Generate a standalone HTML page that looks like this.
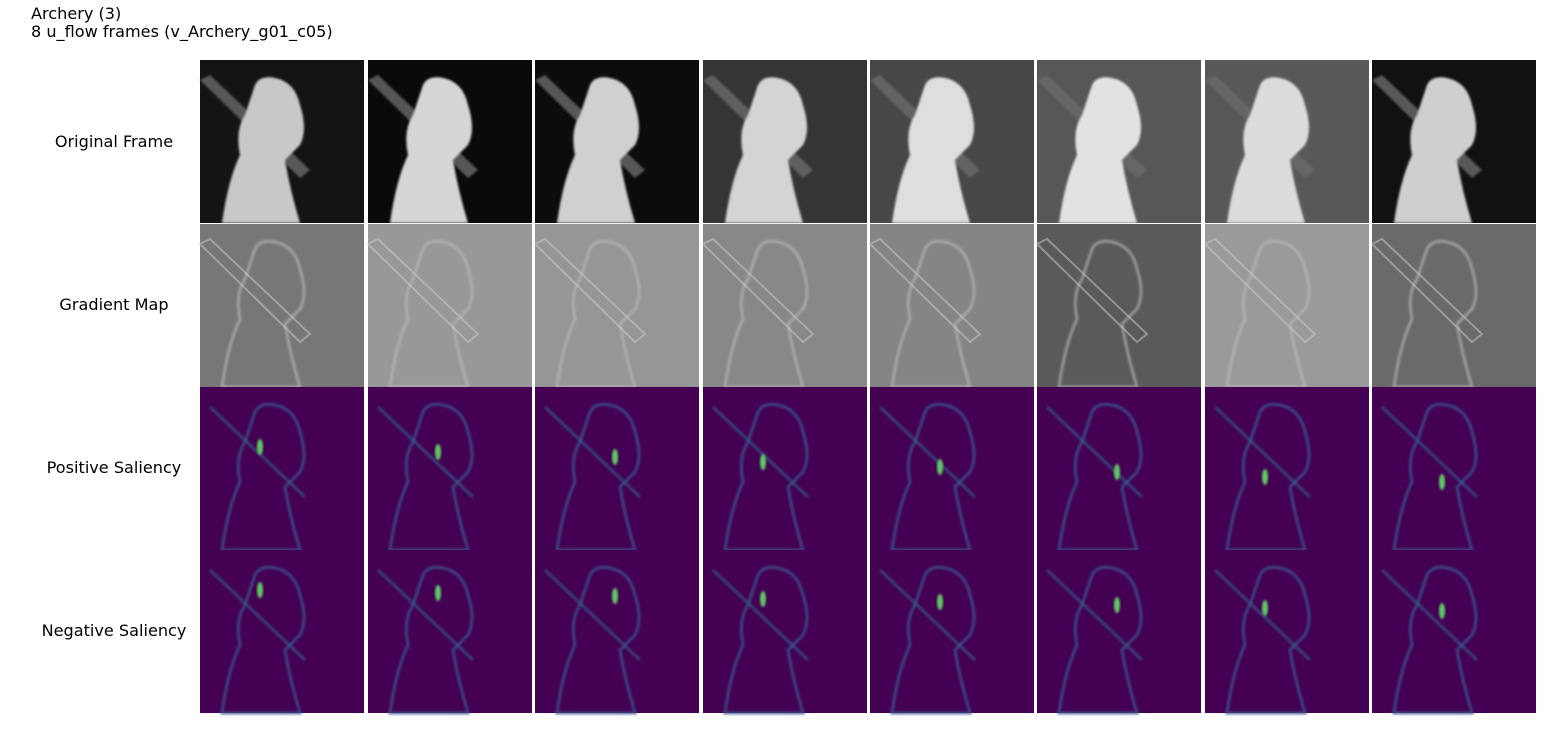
<!DOCTYPE html>
<html><head><meta charset="utf-8"><style>
body{margin:0;background:#fff;width:1552px;height:737px;overflow:hidden;font-family:"DejaVu Sans",sans-serif}
.t{position:absolute;left:31px;font-size:16.1px;color:#000}
.lab{position:absolute;font-size:16.1px;color:#000;text-align:center;width:200px;left:14px}
svg{position:absolute;left:0;top:0}
</style></head><body>
<div class="t" style="top:4px">Archery (3)</div>
<div class="t" style="top:22px">8 u_flow frames (v_Archery_g01_c05)</div>
<div class="lab" style="top:132px">Original Frame</div>
<div class="lab" style="top:295px">Gradient Map</div>
<div class="lab" style="top:458px">Positive Saliency</div>
<div class="lab" style="top:621px">Negative Saliency</div>
<svg id="g" width="1552" height="737">
<defs>
<filter id="bl"><feGaussianBlur stdDeviation="2"/></filter>
<filter id="bl2"><feGaussianBlur stdDeviation="1"/></filter>
</defs>
</svg>
<script>
const colX=[200,368,535,703,870,1037,1205,1372];
const rowY=[60,224,387,550];
const origBg=['#141414','#0a0a0a','#0c0c0c','#353535','#474747','#575757','#585858','#111111'];
const origFig=['#c8c8c8','#d6d6d6','#d0d0d0','#d4d4d4','#dedede','#e2e2e2','#dcdcdc','#cfcfcf'];
const gradBg=['#777777','#989898','#969696','#888888','#858585','#5a5a5a','#9a9a9a','#6a6a6a'];
const W=164,H=163;
const fig="M55 25 Q60 15 75 18 Q95 22 100 45 Q108 70 100 85 L85 100 Q90 130 100 163 L22 163 Q28 120 40 95 Q35 70 45 55 Q50 40 55 25 Z";
const arm="M0 20 L10 15 L110 110 L100 118 Z";
const g=document.getElementById('g');
const NS='http://www.w3.org/2000/svg';
function mk(t,a,p){const e=document.createElementNS(NS,t);for(const k in a)e.setAttribute(k,a[k]);(p||g).appendChild(e);return e;}
colX.forEach((x,i)=>{
 for(let r=0;r<4;r++){
  const grp=mk('g',{transform:`translate(${x},${rowY[r]})`});
  
  
  if(r===0){
   mk('rect',{width:W,height:H,fill:origBg[i]},grp);
   mk('path',{d:arm,fill:'#6a6a6a',opacity:.8,filter:'url(#bl2)'},grp);
   mk('path',{d:fig,fill:origFig[i],filter:'url(#bl2)'},grp);
  }else if(r===1){
   mk('rect',{width:W,height:H,fill:gradBg[i]},grp);
   mk('path',{d:fig,fill:'none',stroke:'#bbb',"stroke-width":3,opacity:.6,filter:'url(#bl2)'},grp);
   mk('path',{d:arm,fill:'none',stroke:'#ccc',"stroke-width":2,opacity:.5},grp);
  }else{
   mk('rect',{width:W,height:H,fill:'#440154'},grp);
   mk('path',{d:fig,fill:'none',stroke:'#3b528b',"stroke-width":3,opacity:.8,filter:'url(#bl2)'},grp);
   mk('path',{d:"M10 20 L105 110",fill:'none',stroke:'#31688e',"stroke-width":3,opacity:.6,filter:'url(#bl2)'},grp);
   mk('ellipse',{cx:60+(i%3)*10,cy:r===2?60+i*5:40+i*3,rx:3,ry:8,fill:'#5ec962',filter:'url(#bl2)'},grp);
  }
 }
});
</script>
</body></html>
